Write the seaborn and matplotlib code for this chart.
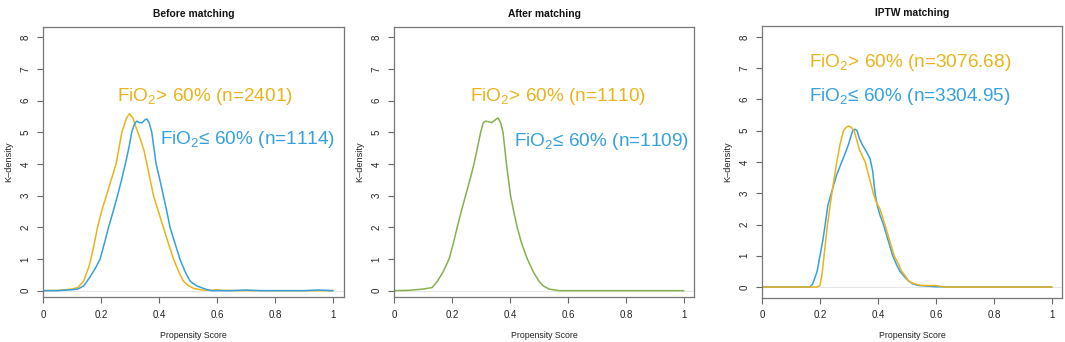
import matplotlib
matplotlib.use("Agg")
import matplotlib.pyplot as plt
import seaborn as sns
import pandas as pd

sns.set_theme(style="white")
plt.rcParams['font.family'] = ['Liberation Sans', 'DejaVu Sans']
plt.rcParams['mathtext.fontset'] = 'custom'
plt.rcParams['mathtext.rm'] = 'Liberation Sans'
plt.rcParams['mathtext.it'] = 'Liberation Sans:italic'
plt.rcParams['mathtext.bf'] = 'Liberation Sans:bold'

YELLOW = "#EBB31A"
BLUE = "#35A0E0"
GREEN = "#86B04E"

titles = ["Before matching", "After matching", "IPTW matching"]
x_ticks = [0, 0.2, 0.4, 0.6, 0.8, 1]
x_ticklabels = ["0", "0.2", "0.4", "0.6", "0.8", "1"]
y_ticks = [0, 1, 2, 3, 4, 5, 6, 7, 8]

# Panel 1: before matching
p1_high_x = [0, 0.05, 0.10, 0.12, 0.14, 0.16, 0.175, 0.188, 0.205, 0.222, 0.232, 0.252, 0.272, 0.288, 0.298,
             0.31, 0.321, 0.335, 0.349, 0.365, 0.381, 0.398, 0.415, 0.432, 0.45, 0.468, 0.484, 0.50, 0.52,
             0.55, 0.58, 0.60, 0.62, 0.7, 0.8, 0.9, 1.0]
p1_high_y = [0, 0.01, 0.05, 0.1, 0.3, 0.8, 1.4, 2.0, 2.6, 3.1, 3.4, 4.0, 5.0, 5.45, 5.58,
             5.45, 5.15, 4.8, 4.4, 3.7, 3.0, 2.5, 2.0, 1.5, 1.0, 0.6, 0.3, 0.17, 0.07,
             0.02, 0.01, 0.03, 0.01, 0, 0, 0, 0]
p1_low_x = [0, 0.05, 0.10, 0.12, 0.14, 0.16, 0.18, 0.197, 0.212, 0.226, 0.242, 0.257, 0.271, 0.284, 0.296,
            0.306, 0.315, 0.323, 0.333, 0.342, 0.35, 0.358, 0.366, 0.375, 0.39, 0.403, 0.415, 0.427, 0.438,
            0.455, 0.472, 0.49, 0.507, 0.53, 0.56, 0.58, 0.65, 0.7, 0.75, 0.9, 0.95, 1.0]
p1_low_y = [0, 0.0, 0.03, 0.05, 0.15, 0.4, 0.7, 1.0, 1.5, 2.0, 2.5, 3.0, 3.5, 4.0, 4.5,
            5.0, 5.25, 5.35, 5.3, 5.3, 5.38, 5.42, 5.3, 5.0, 4.0, 3.5, 3.0, 2.5, 2.0,
            1.5, 1.0, 0.6, 0.3, 0.15, 0.05, 0.0, 0.0, 0.02, 0, 0, 0.02, 0]

# Panel 2: after matching (both groups overlap)
p2_x = [0, 0.05, 0.10, 0.132, 0.15, 0.17, 0.19, 0.205, 0.218, 0.232, 0.247, 0.262, 0.276, 0.29, 0.299,
        0.308, 0.316, 0.326, 0.337, 0.348, 0.359, 0.368, 0.376, 0.388, 0.402, 0.413, 0.425, 0.44, 0.46,
        0.48, 0.5, 0.515, 0.535, 0.57, 0.6, 0.8, 1.0]
p2_y = [0, 0.01, 0.05, 0.1, 0.3, 0.6, 1.0, 1.5, 2.0, 2.5, 3.0, 3.5, 4.0, 4.6, 5.0,
        5.3, 5.35, 5.33, 5.3, 5.38, 5.45, 5.3, 5.0, 4.0, 3.0, 2.5, 2.0, 1.5, 1.0,
        0.6, 0.3, 0.15, 0.05, 0.0, 0, 0, 0]

# Panel 3: IPTW
p3_high_x = [0, 0.1, 0.19, 0.2, 0.207, 0.214, 0.226, 0.241, 0.258, 0.27, 0.281, 0.292, 0.300, 0.309,
             0.318, 0.327, 0.336, 0.346, 0.356, 0.37, 0.384, 0.395, 0.407, 0.424, 0.44, 0.456, 0.47,
             0.482, 0.495, 0.505, 0.52, 0.55, 0.6, 0.63, 0.7, 1.0]
p3_high_y = [0, 0, 0, 0.05, 0.4, 1.0, 2.0, 3.0, 4.0, 4.6, 5.0, 5.12, 5.15, 5.1,
             5.0, 4.7, 4.4, 4.2, 4.0, 3.5, 3.0, 2.7, 2.5, 2.0, 1.5, 1.0, 0.75,
             0.5, 0.35, 0.2, 0.12, 0.05, 0.05, 0.0, 0, 0]
p3_low_x = [0, 0.1, 0.165, 0.175, 0.19, 0.2, 0.21, 0.218, 0.227, 0.239, 0.258, 0.275, 0.288, 0.298,
            0.306, 0.313, 0.321, 0.328, 0.336, 0.346, 0.356, 0.365, 0.373, 0.382, 0.39, 0.398, 0.407,
            0.419, 0.435, 0.451, 0.465, 0.476, 0.49, 0.505, 0.52, 0.54, 0.6, 0.7, 1.0]
p3_low_y = [0, 0, 0, 0.1, 0.5, 1.0, 1.5, 2.0, 2.6, 3.0, 3.6, 4.0, 4.3, 4.55,
            4.8, 5.0, 5.05, 5.0, 4.75, 4.55, 4.4, 4.25, 4.1, 3.7, 3.0, 2.6, 2.3,
            2.0, 1.5, 1.0, 0.7, 0.5, 0.35, 0.2, 0.1, 0.05, 0.01, 0, 0]

labels_high = ["FiO$_\\mathrm{2}$> 60% (n=2401)", "FiO$_\\mathrm{2}$> 60% (n=1110)", "FiO$_\\mathrm{2}$> 60% (n=3076.68)"]
labels_low = ["FiO$_\\mathrm{2}$\u2264 60% (n=1114)", "FiO$_\\mathrm{2}$\u2264 60% (n=1109)", "FiO$_\\mathrm{2}$\u2264 60% (n=3304.95)"]
label_high_pos = [(0.56, 6.13), (0.567, 6.13), (0.51, 7.17)]
label_low_pos = [(0.705, 4.76), (0.716, 4.70), (0.51, 6.10)]

fig = plt.figure(figsize=(10.65, 3.42), dpi=100)
rects = [
    [43 / 1065, 1 - 297 / 342, 301 / 1065, 270 / 342],
    [394 / 1065, 1 - 297 / 342, 300 / 1065, 270 / 342],
    [762 / 1065, 1 - 298 / 342, 300 / 1065, 272 / 342],
]
ylims = [(-0.2, 8.32), (-0.2, 8.32), (-0.35, 8.35)]
xlims = [(0, 1.038), (0, 1.035), (0, 1.035)]
xlabel_pads = [8.5, 8.5, 7.5]

axes = [fig.add_axes(r) for r in rects]

for i, ax in enumerate(axes):
    ax.axhline(0, color="#e6e6e6", lw=0.8, zorder=0)
    if i == 0:
        sns.lineplot(x=p1_high_x, y=p1_high_y, ax=ax, color=YELLOW, lw=1.1, sort=False)
        sns.lineplot(x=p1_low_x, y=p1_low_y, ax=ax, color=BLUE, lw=1.1, sort=False)
    elif i == 1:
        sns.lineplot(x=p2_x, y=p2_y, ax=ax, color=GREEN, lw=1.1, sort=False)
    else:
        sns.lineplot(x=p3_low_x, y=p3_low_y, ax=ax, color=BLUE, lw=1.1, sort=False)
        sns.lineplot(x=p3_high_x, y=p3_high_y, ax=ax, color=YELLOW, lw=1.1, sort=False)

    ax.text(*label_high_pos[i], labels_high[i], color=YELLOW, fontsize=13.7, ha="center", va="center")
    ax.text(*label_low_pos[i], labels_low[i], color=BLUE, fontsize=13.7, ha="center", va="center")

    ax.set_xlim(*xlims[i])
    ax.set_ylim(*ylims[i])
    ax.set_xticks(x_ticks)
    ax.set_xticklabels(x_ticklabels, fontsize=7)
    ax.set_yticks(y_ticks)
    ax.set_yticklabels([str(v) for v in y_ticks], fontsize=7, rotation=90, va="center")
    ax.tick_params(axis="both", direction="out", length=4, width=0.8, color="#666666",
                   bottom=True, left=True, pad=5, labelcolor="#222222")
    for s in ax.spines.values():
        s.set_visible(True)
        s.set_color("#777777")
        s.set_linewidth(0.9)
    ax.set_title(titles[i], fontsize=7.4, fontweight="bold", pad=7, color="#111111")
    ax.set_xlabel("Propensity Score", fontsize=6.3, labelpad=xlabel_pads[i], color="#222222")
    ax.set_ylabel("K\u2013density", fontsize=6.6, labelpad=5, color="#222222")
    ax.grid(False)

fig.savefig("out.png", dpi=100)
